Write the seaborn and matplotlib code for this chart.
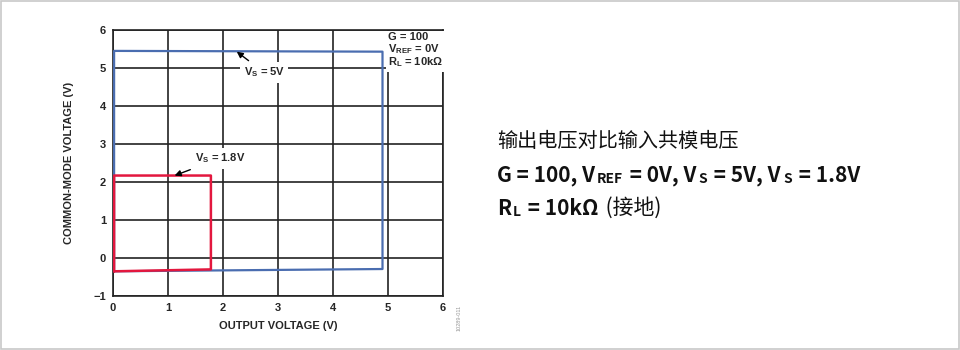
import matplotlib
matplotlib.use("Agg")
import matplotlib.pyplot as plt
import seaborn as sns
import pandas as pd
from matplotlib.patches import Rectangle

# data
vs5_out = [0.02, 0.02, 4.90, 4.90, 0.02]
vs5_cm = [-0.35, 5.45, 5.43, -0.29, -0.35]
vs18_out = [0.02, 0.02, 1.78, 1.78, 0.02]
vs18_cm = [-0.35, 2.17, 2.17, -0.30, -0.35]
x_ticks = [0, 1, 2, 3, 4, 5, 6]
y_ticks = [-1, 0, 1, 2, 3, 4, 5, 6]
y_ticklabels = ["\u22121", "0", "1", "2", "3", "4", "5", "6"]

sns.set_style("white")
plt.rcParams['font.family'] = ['Liberation Sans', 'DejaVu Sans']

fig = plt.figure(figsize=(9.6, 3.5), dpi=100)
fig.patches.append(Rectangle((0.001, 0.002), 0.998, 0.995, transform=fig.transFigure,
                             fill=False, edgecolor="#c8c8c8", linewidth=1.2))
ax = fig.add_axes([113/960, 54/350, 330/960, 266/350])

df5 = pd.DataFrame({"x": vs5_out, "y": vs5_cm})
df18 = pd.DataFrame({"x": vs18_out, "y": vs18_cm})
sns.lineplot(data=df5, x="x", y="y", sort=False, estimator=None, color="#4a6db0", lw=1.6, ax=ax, zorder=3)
sns.lineplot(data=df18, x="x", y="y", sort=False, estimator=None, color="#e3173e", lw=1.8, ax=ax, zorder=4)

ax.set_xlim(0, 6)
ax.set_ylim(-1, 6)
ax.set_xticks(x_ticks)
ax.set_yticks(y_ticks)
ax.set_yticklabels(y_ticklabels)
ax.grid(True, color="#222222", lw=1.2)
ax.set_axisbelow(True)
for s in ax.spines.values():
    s.set_color("#222222")
    s.set_linewidth(1.2)
ax.tick_params(length=0, labelsize=8, pad=5)
for t in ax.get_xticklabels() + ax.get_yticklabels():
    t.set_fontweight("bold")
ax.set_xlabel("OUTPUT VOLTAGE (V)", fontsize=8, fontweight="bold", labelpad=6)
ax.set_ylabel("COMMON-MODE VOLTAGE (V)", fontsize=8, fontweight="bold", labelpad=14)

bbox = dict(boxstyle="square,pad=0.3", fc="white", ec="none")
ax.annotate(r"V$_\mathregular{S}$ = 5V", xy=(2.25, 5.43), xytext=(2.75, 4.88),
            fontsize=8, fontweight="bold", ha="center", va="center", bbox=bbox,
            arrowprops=dict(arrowstyle="-|>", color="black", lw=1, shrinkA=2, shrinkB=0,
                            mutation_scale=9), zorder=6)
ax.annotate(r"V$_\mathregular{S}$ = 1.8V", xy=(1.12, 2.17), xytext=(1.95, 2.62),
            fontsize=8, fontweight="bold", ha="center", va="center", bbox=bbox,
            arrowprops=dict(arrowstyle="-|>", color="black", lw=1, shrinkA=2, shrinkB=0,
                            mutation_scale=9), zorder=6)
ax.text(5.0, 5.95, "G = 100\nV$_\\mathregular{REF}$ = 0V\nR$_\\mathregular{L}$ = 10k\u03a9",
        fontsize=8, fontweight="bold", ha="left", va="top", linespacing=1.0,
        bbox=dict(boxstyle="square,pad=0.2", fc="white", ec="none"), zorder=6)
fig.text(459/960, 1 - 318/350, "10289-011", rotation=90, fontsize=4, color="#999999",
         ha="center", va="center")

# right side text
cjk = ['Noto Sans CJK SC', 'DejaVu Sans']
fig.text(497/960, 1 - 141/350, "输出电压对比输入共模电压", family=cjk, fontsize=14.5,
         va="center", ha="left", color="#111111")

B = "bold"
line2 = [("G = 100, V", 15, B), ("REF", 10, B), (" = 0V, V", 15, B), ("S", 10, B),
         (" = 5V, V", 15, B), ("S", 10, B), (" = 1.8V", 15, B)]
line3 = [("R", 15, B), ("L", 10, B), (" = 10kΩ", 15, B), (" (接地)", 15, "normal")]


def chain(pieces, x, y):
    prev = fig.text(x, y, pieces[0][0], family=cjk, fontsize=pieces[0][1],
                    fontweight=pieces[0][2], va="bottom", ha="left", color="#111111")
    for txt, size, weight in pieces[1:]:
        prev = ax.annotate(
            txt, xy=(1, 0), xycoords=prev, xytext=(1.5, 0), textcoords="offset points",
            family=cjk, fontsize=size, fontweight=weight, va="bottom", ha="left",
            color="#111111", annotation_clip=False)
    return prev


chain(line2, 497/960, 1 - 186/350)
chain(line3, 497/960, 1 - 219/350)

fig.savefig("out.png", dpi=100)
